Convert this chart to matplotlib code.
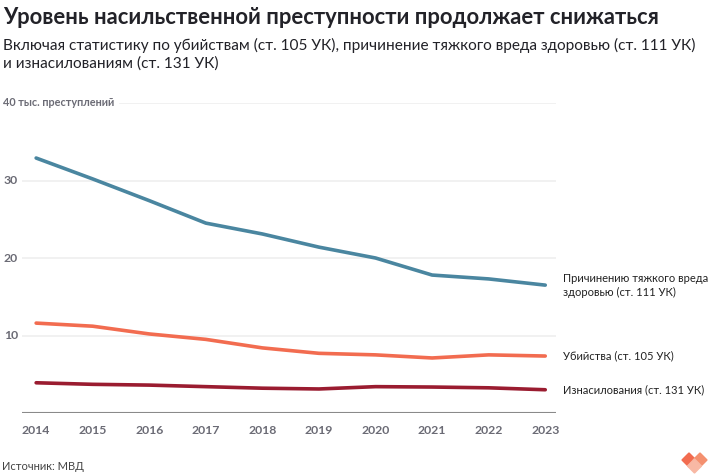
import matplotlib.pyplot as plt
from matplotlib.patches import RegularPolygon

years = [2014, 2015, 2016, 2017, 2018, 2019, 2020, 2021, 2022, 2023]
harm = [32.9, 30.2, 27.4, 24.5, 23.1, 21.4, 20.0, 17.8, 17.3, 16.5]
murder = [11.6, 11.2, 10.2, 9.5, 8.4, 7.7, 7.5, 7.1, 7.5, 7.35]
rape = [3.9, 3.7, 3.6, 3.4, 3.2, 3.1, 3.4, 3.35, 3.25, 3.0]

labels = ['Причинению тяжкого вреда\nздоровью (ст. 111 УК)',
          'Убийства (ст. 105 УК)',
          'Изнасилования (ст. 131 УК)']
colors = ['#4a86a0', '#f26c50', '#9a1c30']
label_y = [16.5, 7.4, 3.0]

plt.rcParams['font.family'] = ['Lato', 'DejaVu Sans']

W, H = 710, 475
fig = plt.figure(figsize=(W / 100, H / 100), dpi=100)
ax = fig.add_axes([22 / W, (H - 413) / H, (556 - 22) / W, (413 - 103) / H])

for vals, c in zip([harm, murder, rape], colors):
    ax.plot(years, vals, color=c, lw=2.6, solid_capstyle='round', zorder=3)

ax.set_xlim(2013.75, 2023.19)
ax.set_ylim(0, 40)

# gridlines
for v in [10, 20, 30]:
    ax.axhline(v, color='#efefef', lw=1.2, zorder=1)
ax.axhline(40, xmin=(120 - 22) / (556 - 22), color='#efefef', lw=1.2, zorder=1)
ax.axhline(0, color='#8a8a8a', lw=1.5, zorder=2)

for s in ax.spines.values():
    s.set_visible(False)
ax.set_yticks([])
ax.set_xticks(years)
ax.set_xticklabels([str(y) for y in years], color='#6b6b75', fontsize=8.8,
                   fontweight='bold')
ax.tick_params(axis='x', length=0, pad=9)

for v in [10, 20, 30]:
    ax.text(-18 / (556 - 22), v, str(v), transform=ax.get_yaxis_transform(),
            ha='left', va='center', color='#6b6b75', fontsize=8.8, fontweight='bold')
ax.text(-19 / (556 - 22), 40, '40 тыс. преступлений', transform=ax.get_yaxis_transform(),
        ha='left', va='center', color='#6b6b75', fontsize=7.8, fontweight='bold')

# line labels
for lab, yv in zip(labels, label_y):
    ax.annotate(lab, xy=(2023, yv), xytext=(12.5, 0), textcoords='offset points',
                ha='left', va='center', fontsize=8.0, color='#222222',
                annotation_clip=False, linespacing=1.3)

fig.text(3 / W, 1 - 17 / H, 'Уровень насильственной преступности продолжает снижаться',
         fontsize=15.8, fontweight='bold', color='#222228', va='center')
fig.text(3 / W, 1 - 54 / H,
         'Включая статистику по убийствам (ст. 105 УК), причинение тяжкого вреда здоровью (ст. 111 УК)\nи изнасилованиям (ст. 131 УК)',
         fontsize=11.05, color='#222228', va='center', linespacing=1.3)
fig.text(2 / W, 1 - 466 / H, 'Источник: МВД', fontsize=8, color='#444444', va='center')

# logo
lax = fig.add_axes([680 / W, 1 - 475 / H, 30 / W, 26 / H])
lax.set_xlim(0, 30)
lax.set_ylim(0, 26)
lax.axis('off')
lax.add_patch(RegularPolygon((9, 15), 4, radius=7, orientation=0, color='#f26c50'))
lax.add_patch(RegularPolygon((20, 15), 4, radius=7, orientation=0, color='#f4906f'))
lax.add_patch(RegularPolygon((14.5, 9), 4, radius=7, orientation=0, color='#f8b8a4'))

fig.savefig('out.png', dpi=100)
